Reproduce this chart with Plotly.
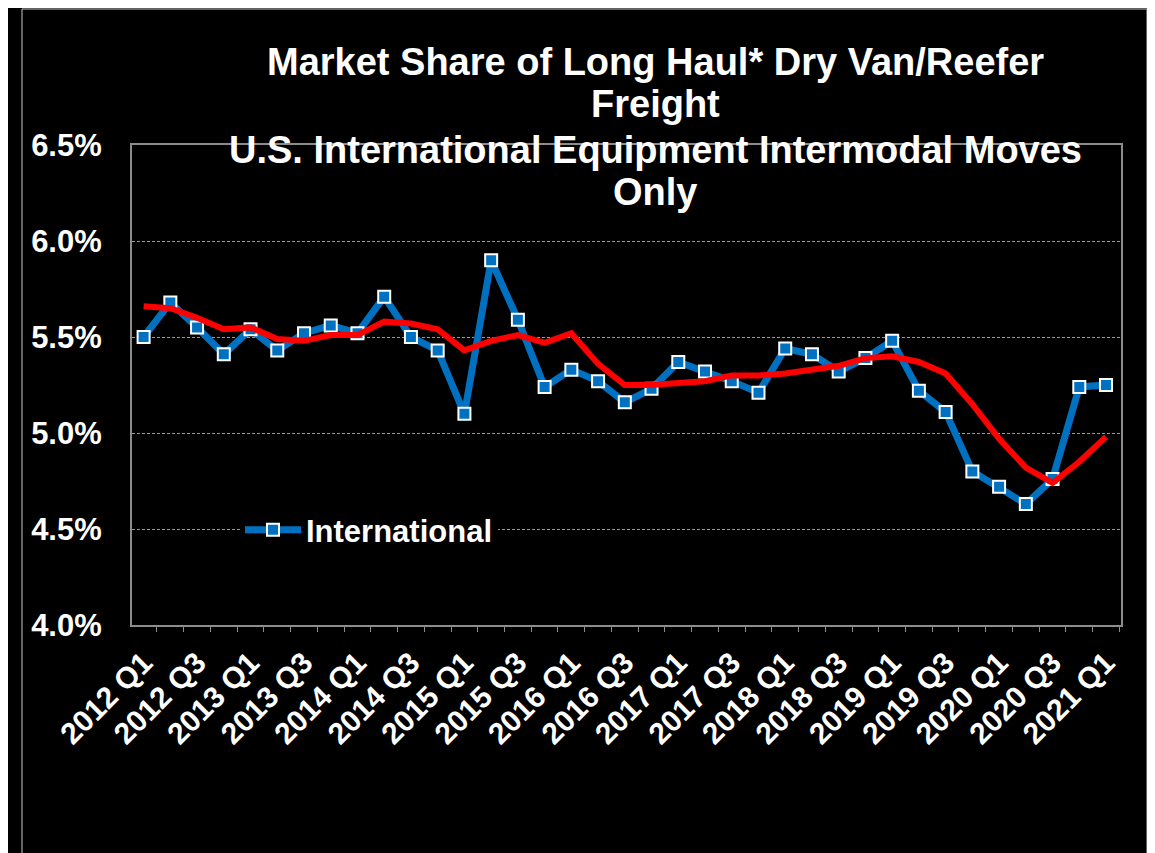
import plotly.graph_objects as go

quarters = [f"{y} Q{q}" for y in range(2012, 2021) for q in range(1, 5)] + ["2021 Q1"]

international = [5.50, 5.68, 5.55, 5.41, 5.54, 5.43, 5.52, 5.56, 5.52, 5.71,
                 5.50, 5.43, 5.10, 5.90, 5.59, 5.24, 5.33, 5.27, 5.16, 5.23,
                 5.37, 5.32, 5.27, 5.21, 5.44, 5.41, 5.32, 5.39, 5.48, 5.22,
                 5.11, 4.80, 4.72, 4.63, 4.76, 5.24, 5.25]

trend = [5.66, 5.65, 5.60, 5.54, 5.55, 5.49, 5.48, 5.51, 5.51, 5.58,
         5.57, 5.54, 5.43, 5.48, 5.51, 5.47, 5.52, 5.36, 5.25, 5.25,
         5.26, 5.27, 5.30, 5.30, 5.31, 5.33, 5.35, 5.39, 5.40, 5.37,
         5.31, 5.15, 4.97, 4.82, 4.74, 4.85, 4.98]

title_lines = ["Market Share of Long Haul* Dry Van/Reefer", "Freight",
               "U.S. International Equipment Intermodal Moves", "Only"]

idx = list(range(len(quarters)))
tick_idx = idx[::2]
tick_txt = [quarters[i] for i in tick_idx]

FONT = "Liberation Sans, Arial, sans-serif"
GRAY = "#8c8c8c"

# page offset (browser body margin)
OFF = 8
L, R, T, B = 132 - OFF, 1121 - OFF, 145 - OFF, 625 - OFF
W, H = 1155, 853
PW, PH = R - L, B - T


def py(ref_y):
    return (B - (ref_y - OFF)) / PH


def px(ref_x):
    return ((ref_x - OFF) - L) / PW


fig = go.Figure()
fig.add_trace(go.Scatter(
    x=idx, y=international, name="International", mode="lines+markers",
    line=dict(color="#0070C0", width=7),
    marker=dict(symbol="square", size=12, color="#0070C0",
                line=dict(color="white", width=2)),
))
fig.add_trace(go.Scatter(
    x=idx, y=trend, name="Trend", mode="lines", showlegend=False,
    line=dict(color="#FF0000", width=6),
))

title_y = [62, 104, 150, 192]
annotations = [dict(
    text=t, xref="paper", yref="paper", x=px(655), y=py(yy),
    xanchor="center", yanchor="middle", showarrow=False,
    font=dict(size=38, color="white", family=FONT, weight="bold"),
) for t, yy in zip(title_lines, title_y)]

fig.update_layout(
    width=W, height=H,
    paper_bgcolor="black", plot_bgcolor="black",
    margin=dict(l=L, r=W - R, t=T, b=H - B, autoexpand=False),
    font=dict(family=FONT, color="white", weight="bold"),
    legend=dict(x=px(240), y=py(530), xanchor="left", yanchor="middle",
                bgcolor="black", font=dict(size=31, color="white", weight="bold"),
                itemwidth=56),
    annotations=annotations,
    shapes=[dict(type="rect", xref="paper", yref="paper",
                 x0=px(22), x1=px(1147), y0=py(870), y1=py(9),
                 line=dict(color="#c8c8c8", width=1), layer="below")],
)

fig.update_xaxes(
    range=[-0.434, 36.56], tickvals=tick_idx, ticktext=tick_txt,
    tickangle=-45, tickfont=dict(size=30, color="white", weight="bold"),
    showgrid=False, zeroline=False,
    showline=True, linecolor=GRAY, linewidth=2, mirror=True,
    ticks="", ticklabelstandoff=6,
    minor=dict(ticks="outside", tick0=0.5, dtick=1, ticklen=5, tickcolor=GRAY, showgrid=False),
)
fig.update_yaxes(
    range=[4.0, 6.5], dtick=0.5, tickformat=".1f", ticksuffix="%",
    tickfont=dict(size=31, color="white", weight="bold"),
    showgrid=True, gridcolor="#9a9a9a", gridwidth=1, griddash="3px,2px",
    zeroline=False, showline=True, linecolor=GRAY, linewidth=2, mirror=True,
    ticks="", ticklabelstandoff=22,
)

fig.write_html("out.html")
